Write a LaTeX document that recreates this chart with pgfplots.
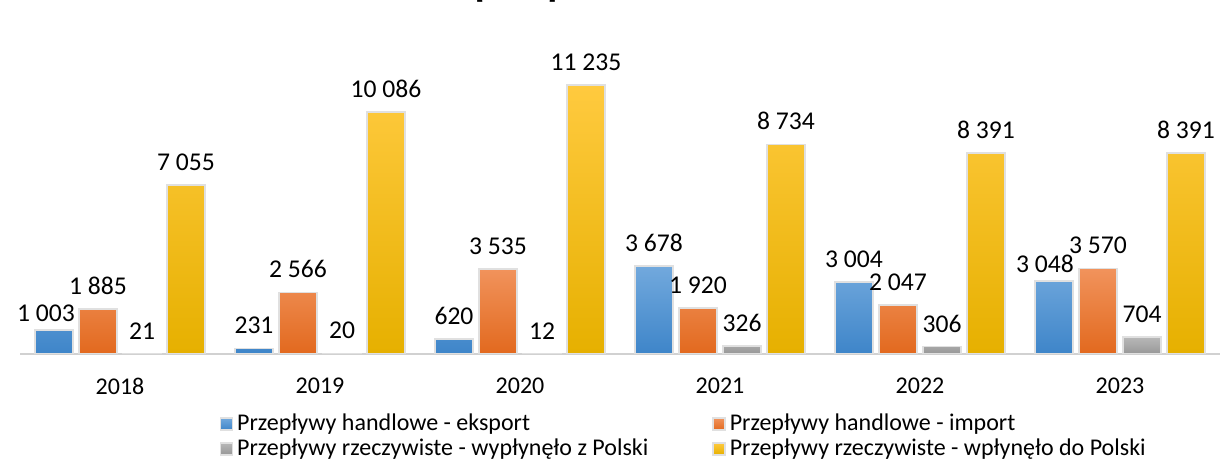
\documentclass[border=0pt]{standalone}
\usepackage{fontspec}
\setmainfont{Carlito}
\usepackage{pgfplots}
\pgfplotsset{compat=1.18}

\definecolor{bluetop}{HTML}{72A9DD}
\definecolor{bluemid}{HTML}{5B9BD5}
\definecolor{bluebot}{HTML}{3E85C9}
\definecolor{orantop}{HTML}{F1935C}
\definecolor{oranmid}{HTML}{ED7D31}
\definecolor{oranbot}{HTML}{E2691E}
\definecolor{graytop}{HTML}{B8B8B8}
\definecolor{graymid}{HTML}{A5A5A5}
\definecolor{graybot}{HTML}{979797}
\definecolor{yeltop}{HTML}{FFCA3F}
\definecolor{yelmid}{HTML}{FFC000}
\definecolor{yelbot}{HTML}{E6B000}

\begin{document}
\begin{tikzpicture}
\path[use as bounding box] (-10pt,-53.5pt) rectangle (601.5pt,177pt);
\node[anchor=base, font=\bfseries\fontsize{13}{15}\selectfont] at (248pt,177.5pt) {[mln zł]};
\begin{axis}[
  scale only axis, width=600pt, height=157pt,
  xmin=-0.5, xmax=5.5, ymin=0, ymax=13100,
  ybar=3pt, bar width=19pt,
  axis x line*=bottom, hide y axis,
  x axis line style={draw=black!18, line width=1pt},
  xtick={0,1,2,3,4,5},
  xticklabels={2018,2019,2020,2021,2022,2023},
  major tick length=0pt,
  ticklabel style={font=\fontsize{12}{14}\selectfont},
  xticklabel style={yshift=-8.5pt},
  nodes near coords,
  every node near coord/.append style={font=\fontsize{12.8}{15}\selectfont, text=black, yshift=3.5pt,
    /pgf/number format/1000 sep={\ }, /pgf/number format/assume math mode=true},
  legend columns=2,
  legend style={draw=none, fill=none, font=\fontsize{12}{14}\selectfont,
    at={(0.161,-0.165)}, anchor=north west,
    /tikz/every even column/.append style={column sep=30pt},
    row sep=-1.5pt},
  legend cell align=left,
  legend image code/.code={\fill[#1] (0pt,-3pt) rectangle (6pt,3pt);},
  every axis plot/.append style={draw=black!12, line width=0.8pt},
]
% eksport: label shifts dx, dy (pt) where Excel moved the label aside
\addplot[top color=bluetop, middle color=bluemid, bottom color=bluebot,
  visualization depends on={value \thisrow{dx}\as\dx},
  visualization depends on={value \thisrow{dy}\as\dy},
  nodes near coords style={/tikz/xshift=\dx pt, /tikz/yshift=\dy pt}]
  table[x=x, y=y] {
x y    dx dy
0 1003 -4 -3
1 231  0  0
2 620  0  0
3 3678 0  0
4 3004 0  0
5 3048 -4.5 -3
};
\addplot[top color=orantop, middle color=oranmid, bottom color=oranbot]
  coordinates {(0,1885) (1,2566) (2,3535) (3,1920) (4,2047) (5,3570)};
\addplot[top color=graytop, middle color=graymid, bottom color=graybot]
  coordinates {(0,21) (1,20) (2,12) (3,326) (4,306) (5,704)};
\addplot[top color=yeltop, middle color=yelmid, bottom color=yelbot]
  coordinates {(0,7055) (1,10086) (2,11235) (3,8734) (4,8391) (5,8391)};
\legend{Przepływy handlowe - eksport, Przepływy handlowe - import,
  Przepływy rzeczywiste - wypłynęło z Polski, Przepływy rzeczywiste - wpłynęło do Polski}
\end{axis}
\end{tikzpicture}
\end{document}
